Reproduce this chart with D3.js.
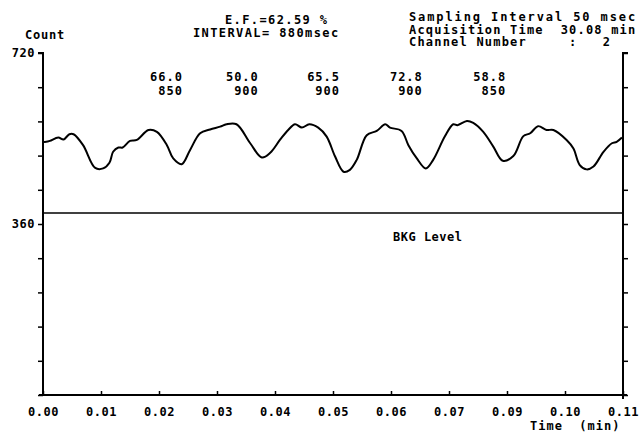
<!DOCTYPE html>
<html>
<head>
<meta charset="utf-8">
<script src="https://cdn.jsdelivr.net/npm/d3@7"></script>
<style>
  body { margin: 0; background: #fff; }
  svg text { font-family: "DejaVu Sans Mono", monospace; font-weight: bold; fill: #000; }
</style>
</head>
<body>
<div id="chart"></div>
<script>
// sampled trace (time in min, counts)
const times = [0, 0.0006, 0.0013, 0.0029, 0.0039, 0.0050, 0.0058, 0.0076, 0.0099, 0.0114, 0.0126,
  0.0133, 0.0143, 0.0151, 0.0165, 0.0178, 0.0200, 0.0216, 0.0235, 0.0247, 0.0263, 0.0279,
  0.0298, 0.0317, 0.0336, 0.0348, 0.0367, 0.0393, 0.0415, 0.0431, 0.0450, 0.0465, 0.0478,
  0.0491, 0.0505, 0.0522, 0.0538, 0.0554, 0.0570, 0.0582, 0.0595, 0.0614, 0.0633, 0.0649,
  0.0658, 0.0680, 0.0693, 0.0709, 0.0726, 0.0740, 0.0762, 0.0778, 0.0786, 0.0804, 0.0816,
  0.0835, 0.0854, 0.0872, 0.0892, 0.0911, 0.0924, 0.0939, 0.0955, 0.0968, 0.0993, 0.1006,
  0.1018, 0.1031, 0.1044, 0.1063, 0.1079, 0.1088, 0.1098];
const counts = [533, 533, 535, 542, 538, 549, 549, 526, 478, 477, 489,
  512, 521, 521, 535, 537, 558, 554, 526, 498, 486, 516,
  551, 559, 565, 570, 570, 530, 500, 510, 538, 558, 570,
  563, 570, 563, 544, 502, 470, 474, 495, 547, 556, 570,
  563, 556, 526, 498, 477, 495, 544, 570, 568, 577, 573,
  554, 523, 493, 503, 545, 551, 566, 558, 558, 537, 519,
  484, 475, 481, 512, 530, 533, 542];

const bkgLevel = 383;

const xTickValues = d3.range(0, 11).map(i => i * 0.011);
const xTickLabels = ["0.00", "0.01", "0.02", "0.03", "0.04", "0.05", "0.06", "0.07", "0.09", "0.10", "0.11"];
const yTickValues = d3.range(0, 721, 72);
const yTickLabels = { 360: "360", 720: "720" };

// per-beat annotations: E.F. (%) over interval (msec)
const beatTimes = [0.0235, 0.0379, 0.0533, 0.0690, 0.0848];
const beatEF = ["66.0", "50.0", "65.5", "72.8", "58.8"];
const beatInterval = ["850", "900", "900", "900", "850"];

const headerCenter = ["E.F.=62.59 %", "INTERVAL= 880msec"];
const headerRight = ["Sampling Interval 50 msec", "Acquisition Time  30.08 min", "Channel Number     :   2"];
const headerRightSpacing = [1.9, 1.2, 1.2];

const width = 643, height = 433;
const x0 = 43, x1 = 623, yTop = 53, yBottom = 395;

const svg = d3.select("#chart").append("svg")
    .attr("width", width)
    .attr("height", height);

const x = d3.scaleLinear().domain([0, 0.11]).range([x0, x1]);
const y = d3.scaleLinear().domain([0, 720]).range([yBottom, yTop]);

// axes
const leftAxis = d3.axisLeft(y).tickValues(yTickValues).tickSize(5).tickPadding(3)
    .tickFormat(d => yTickLabels[d] || "");
const rightAxis = d3.axisRight(y).tickValues(yTickValues).tickSize(5).tickFormat("");
const bottomAxis = d3.axisBottom(x).tickValues(xTickValues).tickSize(-4).tickPadding(12)
    .tickFormat((d, i) => xTickLabels[i]);

function styleAxis(g) {
    g.select(".domain").attr("stroke", "#000").attr("stroke-width", 2);
    g.selectAll(".tick line").attr("stroke", "#000").attr("stroke-width", 1.5);
    g.selectAll("text").attr("font-size", 12).attr("letter-spacing", 0.5)
        .attr("font-family", "DejaVu Sans Mono").attr("font-weight", "bold").attr("fill", "#000");
}

svg.append("g").attr("transform", `translate(${x0},0)`).call(leftAxis).call(styleAxis)
    .call(g => g.select(".domain").attr("d", `M-5,${yTop}H0V${yBottom}`));
svg.append("g").attr("transform", `translate(${x1},0)`).call(rightAxis).call(styleAxis)
    .call(g => g.select(".domain").attr("d", `M5,${yTop}H0V${yBottom + 4}`));
svg.append("g").attr("transform", `translate(0,${yBottom})`).call(bottomAxis).call(styleAxis)
    .call(g => g.select(".domain").attr("d", `M${x0 - 4},0H${x1 + 4}`));

// background level
svg.append("line")
    .attr("x1", x(0)).attr("x2", x(0.11))
    .attr("y1", y(bkgLevel)).attr("y2", y(bkgLevel))
    .attr("stroke", "#000").attr("stroke-width", 1.5);

svg.append("text").attr("x", 393).attr("y", y(bkgLevel) + 28)
    .attr("font-size", 12).attr("letter-spacing", 0.5).text("BKG Level");

// trace
const trace = times.map((t, i) => ({ t, c: counts[i] }));
svg.append("path")
    .datum(trace)
    .attr("fill", "none")
    .attr("stroke", "#000")
    .attr("stroke-width", 2)
    .attr("stroke-linejoin", "round")
    .attr("d", d3.line().x(d => x(d.t)).y(d => y(d.c)).curve(d3.curveCatmullRom));

// beat annotations
const beats = svg.append("g").selectAll("g")
    .data(beatTimes)
    .enter().append("g");
beats.append("text")
    .attr("x", d => x(d) + 16).attr("y", 81)
    .attr("text-anchor", "end").attr("font-size", 12).attr("letter-spacing", 1)
    .text((d, i) => beatEF[i]);
beats.append("text")
    .attr("x", d => x(d) + 16).attr("y", 95)
    .attr("text-anchor", "end").attr("font-size", 12).attr("letter-spacing", 1)
    .text((d, i) => beatInterval[i]);

// header
svg.append("text").attr("x", 25).attr("y", 39).attr("font-size", 12).attr("letter-spacing", 0.8).text("Count");
svg.selectAll(".hc").data(headerCenter).enter().append("text")
    .attr("x", (d, i) => i === 0 ? 225 : 193)
    .attr("y", (d, i) => 24 + i * 13)
    .attr("font-size", 12).attr("letter-spacing", 1.4)
    .style("white-space", "pre")
    .text(d => d);
svg.selectAll(".hr").data(headerRight).enter().append("text")
    .attr("x", 409)
    .attr("y", (d, i) => 21 + i * 12.5)
    .attr("font-size", 12).attr("letter-spacing", (d, i) => headerRightSpacing[i])
    .style("white-space", "pre")
    .text(d => d);

svg.append("text").attr("x", 530).attr("y", 430).attr("font-size", 12).attr("letter-spacing", 1)
    .style("white-space", "pre").text("Time  (min)");
</script>
</body>
</html>
